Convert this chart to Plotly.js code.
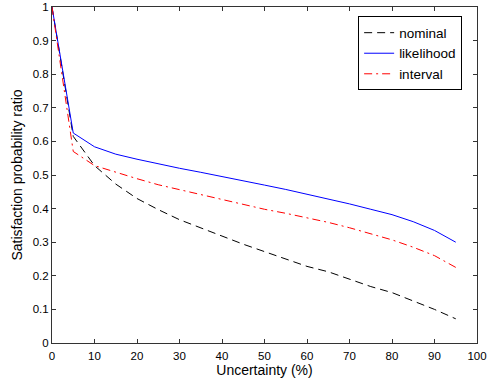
<!DOCTYPE html>
<html>
<head>
<meta charset="utf-8">
<script src="https://cdn.plot.ly/plotly-3.0.1.min.js"></script>
<style>html,body{margin:0;padding:0;background:#fff;}#chart{width:492px;height:381px;}</style>
</head>
<body>
<div id="chart"></div>
<script>
var uncertainty = [0, 5, 10, 15, 20, 25, 30, 35, 40, 45, 50, 55, 60, 65, 70, 75, 80, 85, 90, 95];
var nominal    = [1.0, 0.615, 0.528, 0.473, 0.430, 0.397, 0.367, 0.342, 0.318, 0.294, 0.272, 0.250, 0.228, 0.212, 0.190, 0.168, 0.150, 0.125, 0.100, 0.072];
var likelihood = [1.0, 0.625, 0.584, 0.562, 0.547, 0.533, 0.520, 0.508, 0.496, 0.484, 0.470, 0.457, 0.443, 0.429, 0.414, 0.398, 0.382, 0.361, 0.335, 0.300];
var interval   = [1.0, 0.570, 0.528, 0.508, 0.489, 0.471, 0.456, 0.442, 0.428, 0.413, 0.398, 0.386, 0.373, 0.359, 0.343, 0.326, 0.307, 0.285, 0.260, 0.225];
var seriesNames = ['nominal', 'likelihood', 'interval'];
var xTicks = [0, 10, 20, 30, 40, 50, 60, 70, 80, 90, 100];
var yTicks = [0, 0.1, 0.2, 0.3, 0.4, 0.5, 0.6, 0.7, 0.8, 0.9, 1];
var yTickText = ['0', '0.1', '0.2', '0.3', '0.4', '0.5', '0.6', '0.7', '0.8', '0.9', '1'];

var font = 'Liberation Sans, Arial, Helvetica, sans-serif';
var traces = [
  {x: uncertainty, y: nominal, name: seriesNames[0], mode: 'lines',
   line: {color: '#000000', width: 1, dash: '8px,5px'}},
  {x: uncertainty, y: likelihood, name: seriesNames[1], mode: 'lines',
   line: {color: '#0000ff', width: 1}},
  {x: uncertainty, y: interval, name: seriesNames[2], mode: 'lines',
   line: {color: '#ff0000', width: 1, dash: '8px,4px,2px,4px'}}
];
var axisCommon = {
  showline: true, linecolor: '#333', linewidth: 1, mirror: 'ticks',
  ticks: 'inside', ticklen: 4, tickcolor: '#333', tickwidth: 1,
  showgrid: false, zeroline: false,
  tickfont: {family: font, size: 11.5, color: '#000'}
};
var layout = {
  width: 492, height: 381,
  margin: {l: 52, r: 15, t: 7, b: 38},
  paper_bgcolor: '#fff', plot_bgcolor: '#fff',
  font: {family: font, color: '#000'},
  showlegend: true,
  legend: {x: 0.965, y: 0.972, xanchor: 'right', yanchor: 'top',
    bgcolor: '#fff', bordercolor: '#000', borderwidth: 1,
    font: {family: font, size: 13.5, color: '#000'}, tracegroupgap: 0},
  xaxis: Object.assign({}, axisCommon, {
    range: [0, 100], tickvals: xTicks, ticktext: xTicks.map(String),
    ticklabelstandoff: 2,
    title: {text: 'Uncertainty (%)', font: {family: font, size: 14}, standoff: 2}
  }),
  yaxis: Object.assign({}, axisCommon, {
    range: [0, 1], tickvals: yTicks, ticktext: yTickText,
    title: {text: 'Satisfaction probability ratio', font: {family: font, size: 14}, standoff: 6}
  })
};
Plotly.newPlot('chart', traces, layout, {displayModeBar: false, staticPlot: true});
</script>
</body>
</html>
